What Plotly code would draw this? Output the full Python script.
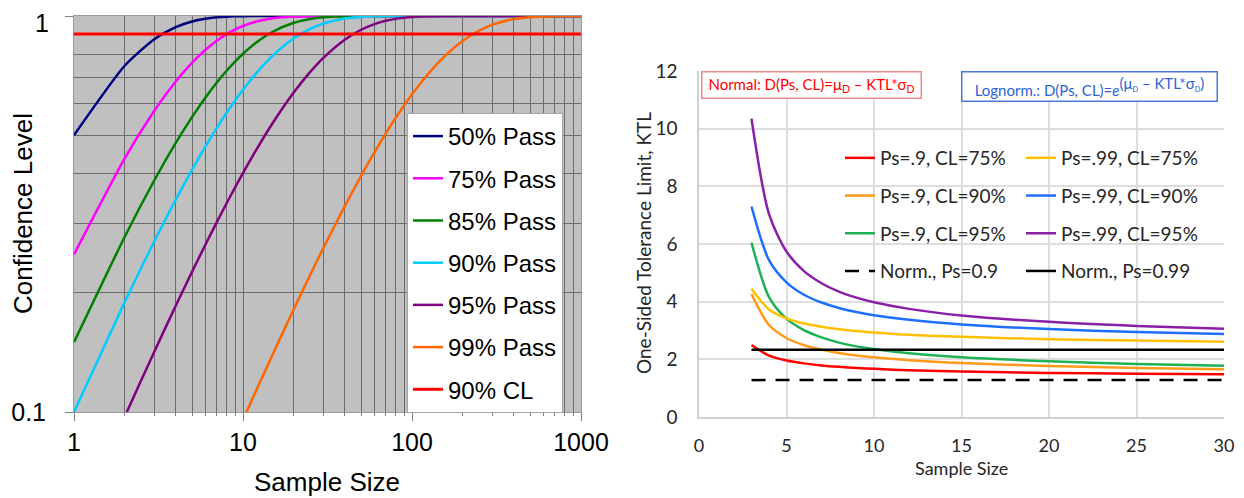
import plotly.graph_objects as go

# ---------------- Left panel data (Confidence Level vs Sample Size) ----------------
sample_n = [1, 2, 3, 4, 5, 6, 7, 8, 9, 10, 12, 15, 20, 25, 30, 40, 50, 60, 70, 80,
            90, 100, 120, 150, 200, 250, 300, 400, 500, 700, 1000]
cl_50 = [0.5, 0.75, 0.875, 0.9375, 0.9688, 0.9844, 0.9922, 0.9961, 0.998, 0.999, 0.9998,
         1, 1, 1, 1, 1, 1, 1, 1, 1, 1, 1, 1, 1, 1, 1, 1, 1, 1, 1, 1]
cl_75 = [0.25, 0.4375, 0.5781, 0.6836, 0.7627, 0.822, 0.8665, 0.8999, 0.9249, 0.9437, 0.9683,
         0.9866, 0.9968, 0.9992, 0.9998, 1, 1, 1, 1, 1, 1, 1, 1, 1, 1, 1, 1, 1, 1, 1, 1]
cl_85 = [0.15, 0.2775, 0.3859, 0.478, 0.5563, 0.6229, 0.6794, 0.7275, 0.7684, 0.8031, 0.8578,
         0.9126, 0.9612, 0.9828, 0.9924, 0.9985, 0.9997, 1, 1, 1, 1, 1, 1, 1, 1, 1, 1, 1, 1, 1, 1]
cl_90 = [0.1, 0.19, 0.271, 0.3439, 0.4095, 0.4686, 0.5217, 0.5695, 0.6126, 0.6513, 0.7176,
         0.7941, 0.8784, 0.9282, 0.9576, 0.9852, 0.9948, 0.9982, 0.9994, 0.9998,
         1, 1, 1, 1, 1, 1, 1, 1, 1, 1, 1]
cl_95 = [0.05, 0.0975, 0.1426, 0.1855, 0.2262, 0.2649, 0.3017, 0.3366, 0.3698, 0.4013, 0.4596,
         0.5367, 0.6415, 0.7226, 0.7854, 0.8715, 0.9231, 0.9539, 0.9724, 0.9835, 0.9901,
         0.9941, 0.9979, 0.9995, 1, 1, 1, 1, 1, 1, 1]
cl_99 = [0.01, 0.0199, 0.0297, 0.0394, 0.049, 0.0585, 0.0679, 0.0773, 0.0865, 0.0956, 0.1136,
         0.1399, 0.1821, 0.2222, 0.2603, 0.331, 0.395, 0.4528, 0.5052, 0.5525, 0.5953,
         0.634, 0.7006, 0.7785, 0.866, 0.9189, 0.951, 0.982, 0.9934, 0.9991, 1]
cl_line_x = [1, 1000]
cl_line_y = [0.9, 0.9]

left_names = ["50% Pass", "75% Pass", "85% Pass", "90% Pass", "95% Pass", "99% Pass"]
left_series = [cl_50, cl_75, cl_85, cl_90, cl_95, cl_99]
left_colors = ["#000080", "#ff00ff", "#008000", "#00ccff", "#800080", "#ff6600"]

x_major = [1, 10, 100, 1000]
x_minor = [2, 3, 4, 5, 6, 7, 8, 9, 20, 30, 40, 50, 60, 70, 80, 90,
           200, 300, 400, 500, 600, 700, 800, 900]
y_major = [0.1, 1]
y_major_text = ["0.1", ""]   # the top label "1" is drawn as an annotation to keep it on the page
y_top_label = "1"
y_minor = [0.2, 0.3, 0.4, 0.5, 0.6, 0.7, 0.8, 0.9]

# ---------------- Right panel data (KTL vs Sample Size) ----------------
ktl_n = [3, 4, 5, 6, 7, 8, 9, 10, 12, 15, 20, 25, 30]
ktl_p90_cl75 = [2.50, 2.13, 1.96, 1.86, 1.79, 1.74, 1.70, 1.67, 1.62, 1.58, 1.53, 1.50, 1.48]
ktl_p99_cl75 = [4.45, 3.73, 3.42, 3.24, 3.13, 3.04, 2.98, 2.93, 2.85, 2.78, 2.70, 2.65, 2.61]
ktl_p90_cl90 = [4.26, 3.19, 2.74, 2.49, 2.33, 2.22, 2.13, 2.07, 1.97, 1.87, 1.77, 1.70, 1.66]
ktl_p99_cl90 = [7.30, 5.44, 4.67, 4.24, 3.97, 3.78, 3.64, 3.53, 3.37, 3.21, 3.05, 2.95, 2.88]
ktl_p90_cl95 = [6.05, 4.16, 3.41, 3.01, 2.76, 2.58, 2.45, 2.36, 2.21, 2.07, 1.93, 1.84, 1.78]
ktl_p99_cl95 = [10.35, 7.04, 5.74, 5.06, 4.64, 4.35, 4.14, 3.98, 3.75, 3.52, 3.30, 3.16, 3.06]
norm_x = [3, 30]
norm_p90 = [1.28, 1.28]
norm_p99 = [2.33, 2.33]

fig = go.Figure()

# ---- left traces
for i, (nm, ys, col) in enumerate(zip(left_names, left_series, left_colors)):
    fig.add_trace(go.Scatter(x=sample_n, y=ys, name=nm, mode="lines",
                             line=dict(color=col, width=2.5, shape="spline", smoothing=0.6),
                             xaxis="x", yaxis="y", legend="legend", legendgroup=f"l{i}"))
fig.add_trace(go.Scatter(x=cl_line_x, y=cl_line_y, name="90% CL", mode="lines",
                         line=dict(color="#ff0000", width=3),
                         xaxis="x", yaxis="y", legend="legend", legendgroup="l6"))

# ---- right traces (col1 -> legend2, col2 -> legend3)
right_col1 = [("Ps=.9, CL=75%", ktl_p90_cl75, "#ff0000"),
              ("Ps=.9, CL=90%", ktl_p90_cl90, "#ff9a1a"),
              ("Ps=.9, CL=95%", ktl_p90_cl95, "#1db254")]
right_col2 = [("Ps=.99, CL=75%", ktl_p99_cl75, "#ffc000"),
              ("Ps=.99, CL=90%", ktl_p99_cl90, "#1f6fff"),
              ("Ps=.99, CL=95%", ktl_p99_cl95, "#8a1fa8")]
for j, (nm, ys, col) in enumerate(right_col1):
    fig.add_trace(go.Scatter(x=ktl_n, y=ys, name=nm, mode="lines",
                             line=dict(color=col, width=2.5, shape="spline", smoothing=0.8),
                             xaxis="x2", yaxis="y2", legend="legend2", legendgroup=f"a{j}"))
fig.add_trace(go.Scatter(x=norm_x, y=norm_p90, name="Norm., Ps=0.9", mode="lines",
                         line=dict(color="#000000", width=2.5, dash="14px,10px"),
                         xaxis="x2", yaxis="y2", legend="legend2", legendgroup="a3"))
for j, (nm, ys, col) in enumerate(right_col2):
    fig.add_trace(go.Scatter(x=ktl_n, y=ys, name=nm, mode="lines",
                             line=dict(color=col, width=2.5, shape="spline", smoothing=0.8),
                             xaxis="x2", yaxis="y2", legend="legend3", legendgroup=f"b{j}"))
fig.add_trace(go.Scatter(x=norm_x, y=norm_p99, name="Norm., Ps=0.99", mode="lines",
                         line=dict(color="#000000", width=2.5),
                         xaxis="x2", yaxis="y2", legend="legend3", legendgroup="b3"))

# the page body adds an 8px offset; work in screen pixels and compensate
OFF = 8
W, H = 1244 - OFF, 498 - OFF
L_FONT = "Liberation Sans, Arial, sans-serif"
R_FONT = "Lato, Open Sans, sans-serif"
GRID_DARK = "#6b6b6b"
R_TXT = "#262626"


def px_x(p):
    return (p - OFF) / W


def px_y(p):
    return 1 - (p - OFF) / H


fig.update_layout(
    width=W, height=H,
    margin=dict(l=0, r=0, t=0, b=0, autoexpand=False),
    paper_bgcolor="white", plot_bgcolor="rgba(0,0,0,0)",
    xaxis=dict(type="log", range=[0, 3], domain=[px_x(74), px_x(581)], anchor="y",
               automargin=False, ticklabeloverflow="allow",
               tickvals=x_major, ticktext=["1", "10", "100", "1000"],
               ticks="outside", ticklen=8, tickcolor="#7f7f7f", ticklabelstandoff=0,
               showgrid=True, gridcolor=GRID_DARK, gridwidth=1,
               minor=dict(tickvals=x_minor, showgrid=True, gridcolor=GRID_DARK, gridwidth=1,
                          ticks="outside", ticklen=3, tickcolor="#7f7f7f"),
               showline=True, linecolor="#9a9a9a", mirror=True, zeroline=False,
               tickfont=dict(family=L_FONT, size=25, color="black")),
    yaxis=dict(type="log", range=[-1, 0], domain=[px_y(412), px_y(16)], anchor="x",
               automargin=False, ticklabeloverflow="allow",
               tickvals=y_major, ticktext=y_major_text,
               ticks="outside", ticklen=8, tickcolor="#7f7f7f", ticklabelstandoff=14,
               showgrid=True, gridcolor=GRID_DARK, gridwidth=1,
               minor=dict(tickvals=y_minor, showgrid=True, gridcolor=GRID_DARK, gridwidth=1),
               showline=True, linecolor="#9a9a9a", mirror=True, zeroline=False,
               tickfont=dict(family=L_FONT, size=25, color="black")),
    xaxis2=dict(range=[0, 30], domain=[px_x(699), px_x(1224)], anchor="y2",
                automargin=False, ticklabeloverflow="allow",
                tickvals=[0, 5, 10, 15, 20, 25, 30], ticks="outside", ticklen=12,
                tickcolor="rgba(0,0,0,0)",
                showgrid=True, gridcolor="#dedede", gridwidth=1.5,
                showline=True, linecolor="#d0d0d0", linewidth=1.5, zeroline=False,
                tickfont=dict(family=R_FONT, size=18, color=R_TXT)),
    yaxis2=dict(range=[0, 12], domain=[px_y(417), px_y(71)], anchor="x2",
                automargin=False, ticklabeloverflow="allow",
                tickvals=[0, 2, 4, 6, 8, 10, 12], ticks="outside", ticklen=16,
                tickcolor="rgba(0,0,0,0)",
                showgrid=True, gridcolor="#dedede", gridwidth=1.5,
                showline=True, linecolor="#d0d0d0", linewidth=1.5, zeroline=False,
                tickfont=dict(family=R_FONT, size=19, color=R_TXT)),
    legend=dict(x=px_x(407), y=px_y(113), xanchor="left", yanchor="top",
                bgcolor="white", bordercolor="#a6a6a6", borderwidth=1,
                font=dict(family=L_FONT, size=24, color="black"),
                tracegroupgap=8, itemwidth=30),
    legend2=dict(x=px_x(840), y=px_y(139), xanchor="left", yanchor="top",
                 bgcolor="rgba(0,0,0,0)", borderwidth=0,
                 font=dict(family=R_FONT, size=19, color=R_TXT),
                 tracegroupgap=10, itemwidth=30),
    legend3=dict(x=px_x(1021), y=px_y(139), xanchor="left", yanchor="top",
                 bgcolor="rgba(0,0,0,0)", borderwidth=0,
                 font=dict(family=R_FONT, size=19, color=R_TXT),
                 tracegroupgap=10, itemwidth=30),
    shapes=[dict(type="rect", xref="x domain", yref="y domain", x0=0, x1=1, y0=0, y1=1,
                 fillcolor="#c0c0c0", line=dict(width=0), layer="below")],
    annotations=[
        # top y tick label of the left panel
        dict(text=y_top_label, xref="paper", yref="paper", x=px_x(50), y=1,
             xanchor="right", yanchor="top", showarrow=False, borderpad=0,
             font=dict(family=L_FONT, size=25, color="black")),
        # axis titles
        dict(text="Sample Size", xref="paper", yref="paper", x=px_x(327), y=px_y(482),
             xanchor="center", yanchor="middle", showarrow=False,
             font=dict(family=L_FONT, size=26, color="black")),
        dict(text="Confidence Level", xref="paper", yref="paper", x=px_x(23), y=px_y(214),
             xanchor="center", yanchor="middle", showarrow=False, textangle=-90,
             font=dict(family=L_FONT, size=26, color="black")),
        dict(text="Sample Size", xref="paper", yref="paper", x=px_x(961), y=px_y(468),
             xanchor="center", yanchor="middle", showarrow=False,
             font=dict(family=R_FONT, size=18, color=R_TXT)),
        dict(text="One-Sided Tolerance Limit, KTL", xref="paper", yref="paper",
             x=px_x(643), y=px_y(243), xanchor="center", yanchor="middle", showarrow=False,
             textangle=-90, font=dict(family=R_FONT, size=19, color=R_TXT)),
        # formula boxes
        dict(text="Normal: D(Ps, CL)=μ<sub>D</sub> – KTL*σ<sub>D</sub>",
             xref="paper", yref="paper", x=px_x(811), y=px_y(85),
             xanchor="center", yanchor="middle", showarrow=False,
             width=216, height=23, bordercolor="#f08a8a", borderwidth=1.5, borderpad=1,
             bgcolor="white", font=dict(family=R_FONT, size=15, color="#ff0000")),
        dict(text="Lognorm.: D(Ps, CL)=<i>e</i><sup><span style='font-size:15px'>(μ</span>"
                  "<sub>D</sub><span style='font-size:15px'> – KTL*σ</span><sub>D</sub>"
                  "<span style='font-size:15px'>)</span></sup>",
             xref="paper", yref="paper", x=px_x(1089.5), y=px_y(87),
             xanchor="center", yanchor="middle", showarrow=False,
             width=252, height=26, bordercolor="#4a78d8", borderwidth=1.5, borderpad=1,
             bgcolor="white", font=dict(family=R_FONT, size=15, color="#2f62d6")),
    ],
)

fig.write_html("out.html")
